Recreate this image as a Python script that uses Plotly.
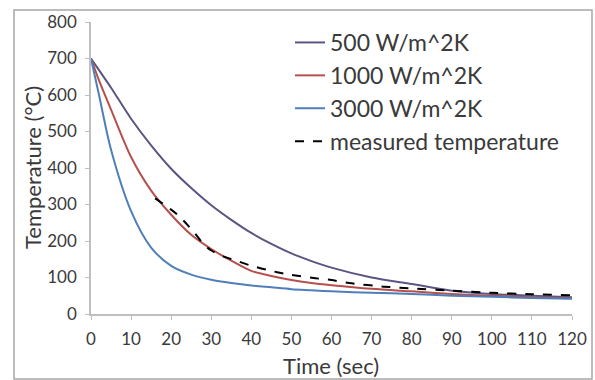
import plotly.graph_objects as go

# ---- data ----
time_sim = [0, 2, 5, 10, 15, 20, 25, 30, 35, 40, 45, 50, 55, 60, 70, 80, 90, 100, 110, 120]
temp_500 = [700, 668, 620, 535, 462, 398, 345, 298, 258, 222, 192, 166, 145, 127, 100, 82, 64, 55, 50, 46]
temp_1000 = [700, 640, 560, 430, 338, 272, 217, 178, 146, 118, 104, 93, 85, 79, 69, 62, 55, 50, 46, 43]
temp_3000 = [700, 600, 450, 282, 182, 132, 108, 94, 85, 78, 73, 68, 65, 62, 58, 55, 50, 47, 44, 42]

time_meas = [16, 18, 20, 22, 24, 26, 28, 30, 33, 36, 40, 45, 48, 50, 56, 60, 65, 73, 80, 90, 100, 110, 120]
temp_meas = [317, 302, 286, 268, 245, 220, 192, 174, 158, 147, 132, 118, 111, 107, 98, 93, 84, 75, 70, 64, 58, 54, 51]

names = ["500 W/m^2K", "1000 W/m^2K", "3000 W/m^2K", "measured temperature"]
colors = ["#5a5583", "#b5504c", "#4f7fb8", "#000000"]
x_title = "Time (sec)"
y_title = "Temperature (°C)"

FONT = "Lato, 'Open Sans', sans-serif"
TXT = "#3a3a3a"

fig = go.Figure()
for i, ys in enumerate([temp_500, temp_1000, temp_3000]):
    fig.add_trace(go.Scatter(
        x=time_sim, y=ys, mode="lines", name=names[i],
        line=dict(color=colors[i], width=2, shape="spline", smoothing=0.8),
    ))
fig.add_trace(go.Scatter(
    x=time_meas, y=temp_meas, mode="lines", name=names[3],
    line=dict(color=colors[3], width=2, dash="dash", shape="spline", smoothing=0.6),
))

L, R, T, B = 91, 23, 22, 66
W, H = 595, 380
pw = W - L - R
ph = H - T - B

def px_x(px):
    return (px - L) / pw

def px_y(py):
    return (H - B - py) / ph

fig.add_shape(type="rect", xref="paper", yref="paper",
              x0=px_x(14), x1=px_x(592), y0=px_y(379), y1=px_y(10),
              line=dict(color="#a6a6a6", width=1.5), fillcolor="rgba(0,0,0,0)", layer="below")

fig.add_annotation(text=x_title, xref="paper", yref="paper",
                   x=px_x(331), y=px_y(365), xanchor="center", yanchor="middle",
                   showarrow=False, font=dict(family=FONT, size=22, color=TXT))
fig.add_annotation(text=y_title, xref="paper", yref="paper",
                   x=px_x(32), y=px_y(168), xanchor="center", yanchor="middle", textangle=-90,
                   showarrow=False, font=dict(family=FONT, size=22, color=TXT))

fig.update_layout(
    width=W, height=H,
    margin=dict(l=L, r=R, t=T, b=B, autoexpand=False),
    paper_bgcolor="white", plot_bgcolor="white",
    font=dict(family=FONT, color=TXT),
    showlegend=True,
    legend=dict(
        x=px_x(290), y=px_y(21), xanchor="left", yanchor="top",
        bgcolor="rgba(0,0,0,0)", borderwidth=0,
        font=dict(family=FONT, size=23, color=TXT),
        traceorder="normal",
    ),
    xaxis=dict(
        range=[0, 120], dtick=10, tick0=0, automargin=False,
        showgrid=False, zeroline=False,
        showline=True, linecolor="#bfbfbf", linewidth=1.5,
        ticks="outside", ticklen=4, tickcolor="#bfbfbf",
        tickfont=dict(family=FONT, size=17, color=TXT),
        ticklabelstandoff=5,
    ),
    yaxis=dict(
        range=[0, 800], dtick=100, tick0=0, automargin=False,
        showgrid=False, zeroline=False,
        showline=True, linecolor="#bfbfbf", linewidth=1.5,
        ticks="outside", ticklen=4, tickcolor="#bfbfbf",
        tickfont=dict(family=FONT, size=17, color=TXT),
        ticklabelstandoff=5,
    ),
)

fig.write_html("out.html")
